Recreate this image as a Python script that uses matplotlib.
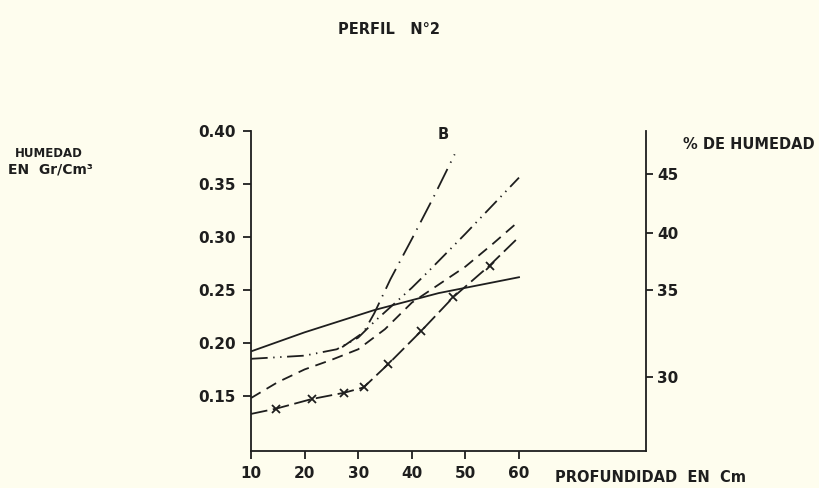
import matplotlib
matplotlib.use('Agg')
import matplotlib.pyplot as plt

# profundidad (cm) vs humedad (gr/cm3)
solid_x = [10, 20, 33, 45, 60]
solid_y = [0.192, 0.210, 0.231, 0.247, 0.262]

cross_x = [10, 14.7, 21.3, 27.4, 31, 35.6, 41.7, 47.7, 54.5, 60]
cross_y = [0.133, 0.138, 0.147, 0.153, 0.158, 0.180, 0.211, 0.243, 0.273, 0.300]

dash_x = [10, 15, 20, 25, 30, 35, 40, 45, 50, 55, 60]
dash_y = [0.148, 0.163, 0.175, 0.184, 0.194, 0.213, 0.238, 0.255, 0.272, 0.293, 0.315]

ddot_x = [10, 20, 26, 30, 33, 40, 43, 50, 60]
ddot_y = [0.185, 0.188, 0.194, 0.205, 0.220, 0.252, 0.267, 0.303, 0.356]

b_x = [27, 31, 33, 36, 40, 44, 48]
b_y = [0.196, 0.210, 0.228, 0.260, 0.298, 0.337, 0.378]

x_ticks = [10, 20, 30, 40, 50, 60]
y_ticks = [0.15, 0.20, 0.25, 0.30, 0.35, 0.40]
y_labels = ['0.15', '0.20', '0.25', '0.30', '0.35', '0.40']

# % de humedad scale on the right (hand drawn, not linear)
pct_labels = ['45', '40', '35', '30']
pct_pos = [0.359, 0.304, 0.250, 0.168]

bg = '#fefdee'
ink = '#1e1e1e'

plt.rcParams['font.family'] = ['DejaVu Sans']
plt.rcParams['font.weight'] = 'bold'
plt.rcParams['lines.scale_dashes'] = False


def main():
    fig = plt.figure(figsize=(8.19, 4.88), dpi=100, facecolor=bg)
    ax = fig.add_axes([0.3065, 0.0758, 0.4823, 0.6558])
    ax.set_facecolor(bg)

    lw = 1.3
    ax.plot(solid_x, solid_y, color=ink, lw=lw, ls='-')
    ax.plot(cross_x, cross_y, color=ink, lw=lw, ls=(0, (12, 4)))
    ax.plot(cross_x[1:-1], cross_y[1:-1], color=ink, lw=0, marker='x',
            ms=6, mew=1.3)
    ax.plot(dash_x, dash_y, color=ink, lw=lw, ls=(0, (8, 5)))
    ax.plot(ddot_x, ddot_y, color=ink, lw=lw,
            ls=(0, (12, 4, 1, 4, 1, 4)))
    ax.plot(b_x, b_y, color=ink, lw=lw, ls=(0, (16, 5, 1, 5)))

    ax.set_xlim(10, 83.7)
    ax.set_ylim(0.098, 0.40)

    for s in ['left', 'bottom', 'right']:
        ax.spines[s].set_color(ink)
        ax.spines[s].set_linewidth(1.3)
    ax.spines['top'].set_visible(False)

    ax.set_xticks(x_ticks)
    ax.set_xticklabels([str(v) for v in x_ticks])
    ax.set_yticks(y_ticks)
    ax.set_yticklabels(y_labels)
    ax.tick_params(axis='both', colors=ink, length=6, width=1.3,
                   labelsize=11, pad=5)

    ax2 = ax.twinx()
    ax2.set_ylim(ax.get_ylim())
    ax2.set_yticks(pct_pos)
    ax2.set_yticklabels(pct_labels)
    ax2.tick_params(axis='y', colors=ink, length=5, width=1.3,
                    labelsize=11, pad=3)
    for s in ax2.spines.values():
        s.set_visible(False)

    ax.text(45.8, 0.397, 'B', fontsize=10.5, fontweight='bold', color=ink,
            ha='center', va='center')

    fig.text(0.475, 0.939, 'PERFIL   N°2', fontsize=10.5, color=ink,
             ha='center', va='center')
    fig.text(0.018, 0.686, 'HUMEDAD', fontsize=8.5, color=ink,
             ha='left', va='center')
    fig.text(0.010, 0.652, 'EN  Gr/Cm³', fontsize=10, color=ink,
             ha='left', va='center')
    fig.text(0.834, 0.703, '% DE HUMEDAD', fontsize=10.5, color=ink,
             ha='left', va='center')
    fig.text(0.678, 0.0205, 'PROFUNDIDAD  EN  Cm', fontsize=10.5, color=ink,
             ha='left', va='center')

    fig.savefig('out.png', dpi=100, facecolor=bg)


if __name__ == '__main__':
    main()
